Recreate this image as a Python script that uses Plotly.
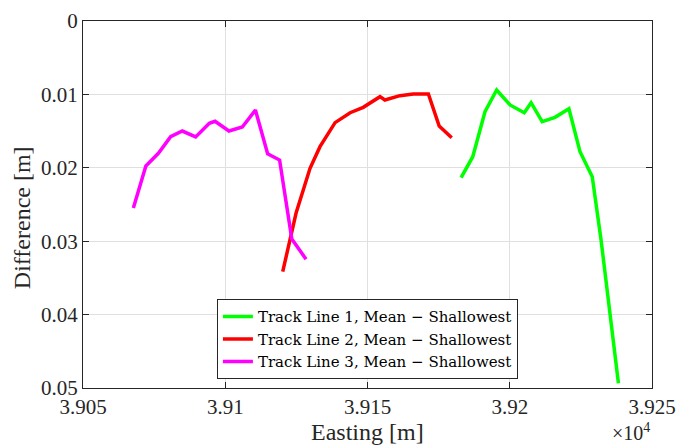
import plotly.graph_objects as go

# Track Line 1 (green)
x1 = [39182.9, 39187.0, 39191.3, 39195.4, 39200.1, 39205.1, 39207.5, 39211.4, 39215.9, 39220.8, 39224.7, 39229.0, 39232.1, 39238.2]
y1 = [0.02135, 0.01849, 0.01236, 0.0094, 0.01144, 0.01249, 0.01113, 0.01372, 0.01312, 0.01195, 0.0178, 0.02121, 0.02984, 0.04936]

# Track Line 2 (red)
x2 = [39120.2, 39124.9, 39129.8, 39133.3, 39138.6, 39143.9, 39148.5, 39154.4, 39156.1, 39161.4, 39166.1, 39171.4, 39175.2, 39179.6]
y2 = [0.03415, 0.02616, 0.02007, 0.01712, 0.01385, 0.01249, 0.01176, 0.01031, 0.01076, 0.01017, 0.00995, 0.00995, 0.01431, 0.0159]

# Track Line 3 (magenta)
x3 = [39067.7, 39072.1, 39076.5, 39080.8, 39084.9, 39089.6, 39094.4, 39096.4, 39101.3, 39106.0, 39110.6, 39114.9, 39119.1, 39123.4, 39128.4]
y3 = [0.02548, 0.01975, 0.01803, 0.01576, 0.01499, 0.0158, 0.01394, 0.01366, 0.01499, 0.01444, 0.01213, 0.01808, 0.01894, 0.0297, 0.03246]

names = ["Track Line 1, Mean \u2212 Shallowest",
         "Track Line 2, Mean \u2212 Shallowest",
         "Track Line 3, Mean \u2212 Shallowest"]
colors = ["#00ff00", "#ff0000", "#ff00ff"]

x_tickvals = [39050, 39100, 39150, 39200, 39250]
x_ticktext = ["3.905", "3.91", "3.915", "3.92", "3.925"]
y_tickvals = [0, 0.01, 0.02, 0.03, 0.04, 0.05]
y_ticktext = ["0", "0.01", "0.02", "0.03", "0.04", "0.05"]

FONT = "Liberation Serif"
LFONT = "DejaVu Serif"
TXT = "#262626"

fig = go.Figure()
for xs, ys, nm, c in zip([x1, x2, x3], [y1, y2, y3], names, colors):
    fig.add_trace(go.Scatter(x=xs, y=ys, mode="lines", name=nm,
                             line=dict(color=c, width=3.5)))

axis_common = dict(showline=True, linecolor=TXT, linewidth=1.2, mirror="allticks",
                   ticks="inside", ticklen=6, tickcolor=TXT, automargin=False,
                   showgrid=True, gridcolor="#e0e0e0", gridwidth=1, zeroline=False,
                   tickfont=dict(family=FONT, size=21, color=TXT))

fig.update_layout(
    width=678, height=446,
    margin=dict(l=83, r=26, t=21, b=58),
    paper_bgcolor="white", plot_bgcolor="white",
    font=dict(family=FONT, color=TXT),
    xaxis=dict(range=[39050, 39250], tickvals=x_tickvals, ticktext=x_ticktext, **axis_common),
    yaxis=dict(range=[0.05, 0], tickvals=y_tickvals, ticktext=y_ticktext, **axis_common),
    legend=dict(x=0.235, y=0.2425, xanchor="left", yanchor="top",
                bgcolor="white", bordercolor=TXT, borderwidth=1.2,
                font=dict(family=LFONT, size=15, color="#000000"),
                tracegroupgap=0, itemwidth=30),
    showlegend=True,
)

# axis titles
fig.add_annotation(text="Easting [m]", xref="paper", yref="paper",
                   x=0.5, y=-0.12, xanchor="center", yanchor="middle", showarrow=False,
                   font=dict(family=FONT, size=24, color=TXT))
fig.add_annotation(text="Difference [m]", xref="paper", yref="paper", textangle=-90,
                   x=-0.107, y=0.463, xanchor="center", yanchor="middle", showarrow=False,
                   font=dict(family=FONT, size=24, color=TXT))
# exponent label
fig.add_annotation(text="\u00d710<sup>4</sup>", xref="paper", yref="paper",
                   x=1.0, y=-0.12, xanchor="right", yanchor="middle", showarrow=False,
                   font=dict(family=FONT, size=20, color=TXT))

fig.write_html("out.html", config={"displayModeBar": False},
               post_script="document.body.style.margin='0';document.body.style.padding='0';")
